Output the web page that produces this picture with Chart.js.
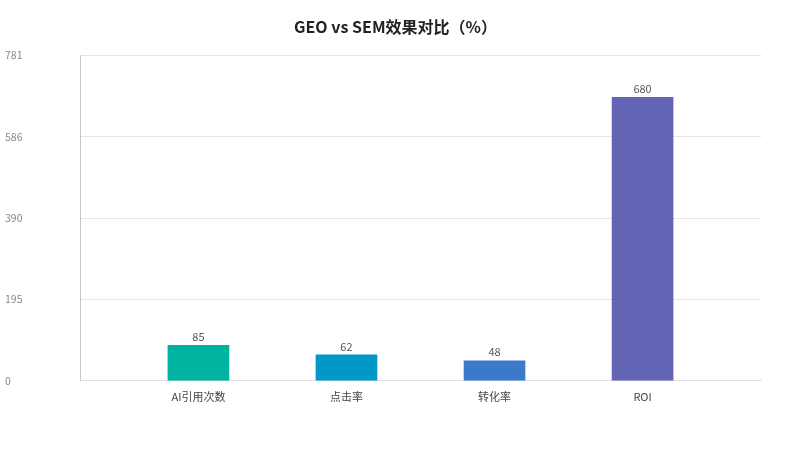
<!DOCTYPE html>
<html>
<head>
<meta charset="utf-8">
<script src="https://cdn.jsdelivr.net/npm/chart.js@4.4.1/dist/chart.umd.min.js"></script>
<style>
  html, body { margin: 0; padding: 0; background: #fff; }
  #wrap { width: 800px; height: 450px; }
</style>
</head>
<body>
<div id="wrap"><canvas id="chart"></canvas></div>
<script>
const categories = ["AI引用次数", "点击率", "转化率", "ROI"]
const values = [85, 62, 48, 680]
const barColors = ["#00b3a0", "#0097c9", "#3b7acb", "#6364b4"]
const yMax = 780.8
const yTickCount = 4

const FONT = "'Noto Sans CJK SC', 'Noto Sans', sans-serif"

const valueLabels = {
  id: "valueLabels",
  afterDatasetsDraw(chart) {
    const ctx = chart.ctx
    const meta = chart.getDatasetMeta(0)
    ctx.save()
    ctx.font = "11px " + FONT
    ctx.fillStyle = "#555"
    ctx.textAlign = "center"
    ctx.textBaseline = "bottom"
    meta.data.forEach((bar, i) => {
      ctx.fillText(String(values[i]), bar.x, bar.y - 3)
    })
    ctx.restore()
  }
}

new Chart(document.getElementById("chart"), {
  type: "bar",
  data: {
    datasets: [{
      data: values.map((v, i) => ({ x: i, y: v })),
      backgroundColor: barColors,
      barThickness: 61,
      borderWidth: 0
    }]
  },
  options: {
    responsive: true,
    maintainAspectRatio: false,
    animation: false,
    layout: { padding: { left: 5, right: 14, top: 0, bottom: 46 } },
    plugins: {
      legend: { display: false },
      tooltip: { enabled: false },
      title: {
        display: true,
        text: "GEO vs SEM效果对比（%）",
        color: "#222",
        font: { size: 16, weight: "bold", family: FONT },
        padding: { top: 17, bottom: 19 }
      }
    },
    scales: {
      x: {
        type: "linear",
        min: -0.8,
        max: 3.8,
        offset: false,
        grid: { display: false },
        border: { display: true, color: "#e0e0e0" },
        afterBuildTicks(scale) {
          scale.ticks = categories.map((_, i) => ({ value: i }))
        },
        ticks: {
          color: "#444",
          font: { size: 11, family: FONT },
          padding: 1,
          callback: (v) => categories[v] ?? ""
        }
      },
      y: {
        min: 0,
        max: yMax,
        afterFit(scale) { scale.width = 75 },
        afterBuildTicks(scale) {
          const t = []
          for (let k = 0; k <= yTickCount; k++) t.push({ value: yMax * k / yTickCount })
          scale.ticks = t
        },
        grid: { color: "#e6e6e6", drawTicks: false },
        border: { display: true, color: "#c8c8c8" },
        ticks: {
          color: "#888",
          crossAlign: "far",
          font: { size: 10.5, family: FONT },
          callback: (v) => Math.round(v)
        }
      },
      yRight: {
        position: "right",
        min: 0,
        max: yMax,
        afterFit(scale) { scale.width = 25 },
        grid: { display: false },
        border: { display: false },
        ticks: { display: false }
      }
    }
  },
  plugins: [valueLabels]
})
</script>
</body>
</html>
